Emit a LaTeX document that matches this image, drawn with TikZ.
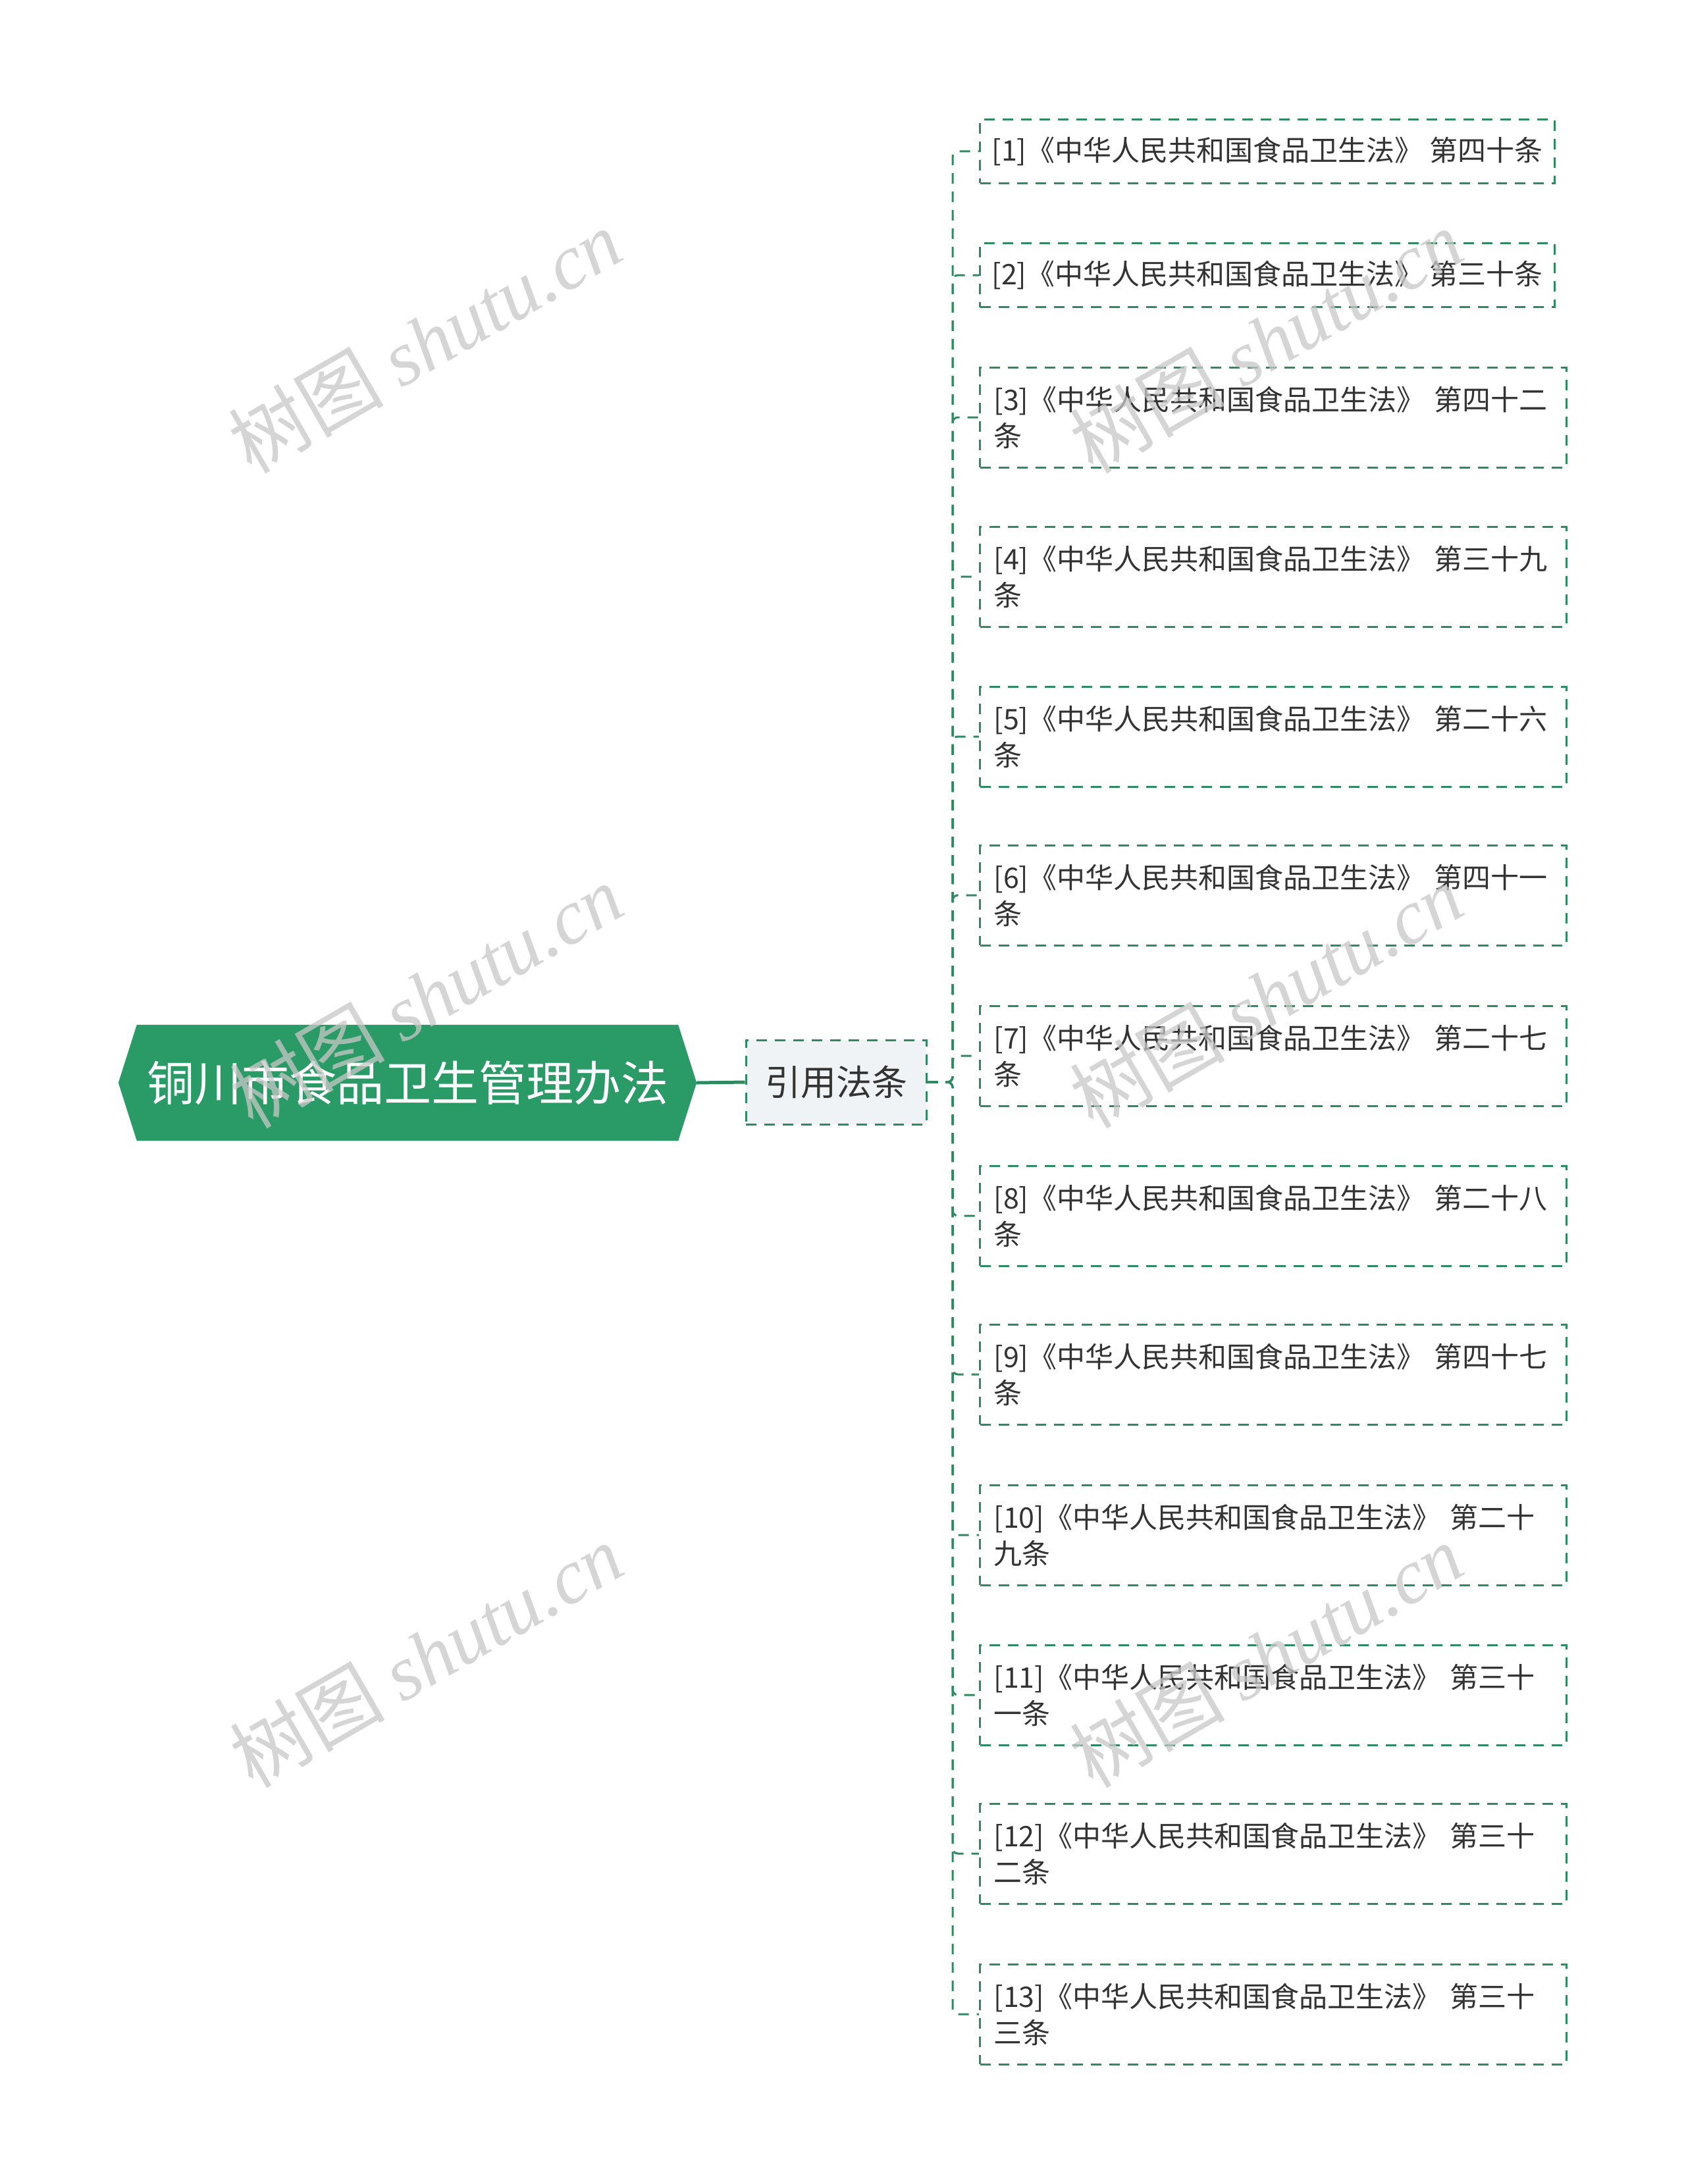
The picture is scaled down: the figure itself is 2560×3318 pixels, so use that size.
\documentclass[tikz,border=0pt]{standalone}
\usepackage{fontspec}
\setmainfont{Noto Sans CJK SC}
\newfontfamily\wmcjk{Noto Sans CJK SC}
\newfontfamily\wmlatin{Liberation Serif}
\usetikzlibrary{backgrounds}
\definecolor{rootgreen}{RGB}{42,154,103}
\definecolor{linegreen}{RGB}{46,139,96}
\definecolor{midfill}{RGB}{240,243,245}
\definecolor{txt}{RGB}{51,51,51}
\definecolor{wmgray}{RGB}{200,200,200}
\tikzset{
  leafbox/.style={draw=linegreen, line width=3pt, dash pattern=on 16pt off 12pt,
    fill=white, text=txt, align=left, anchor=west, inner xsep=18pt, inner ysep=0pt,
    font=\fontsize{43}{55}\selectfont},
  oneline/.style={leafbox, minimum width=872pt, minimum height=97pt},
  twoline/.style={leafbox, inner xsep=21pt, text width=849pt, minimum height=152pt},
  midbox/.style={draw=linegreen, line width=3pt, dash pattern=on 16pt off 12pt,
    fill=midfill, text=txt, minimum width=274pt, minimum height=128pt,
    font=\fontsize{54}{60}\selectfont},
  rootbox/.style={text=white, minimum width=878pt, minimum height=176pt, inner sep=0pt,
    font=\fontsize{72}{80}\selectfont},
  branch/.style={draw=linegreen, line width=3pt, dash pattern=on 16pt off 12pt, rounded corners=8pt},
  wmark/.style={text=wmgray, opacity=0.75, rotate=30, font=\fontsize{118}{120}\selectfont}
}
\begin{document}
\begin{tikzpicture}[x=1pt,y=-1pt]
\useasboundingbox (0,0) rectangle (2560,3318);

% root
\node[rootbox] (root) at (619,1645) {铜川市食品卫生管理办法};
\begin{scope}[on background layer]
\fill[white] (0,0) rectangle (2560,3318);
\fill[rootgreen] (root.west) -- ([xshift=28pt]root.north west) -- ([xshift=-28pt]root.north east)
  -- (root.east) -- ([xshift=-28pt]root.south east) -- ([xshift=28pt]root.south west) -- cycle;
\end{scope}

% middle
\node[midbox] (mid) at (1270,1644) {引用法条};
\draw[linegreen, line width=5pt] (root.east) -- (mid.west);

\coordinate (trunk) at (1447,1644);

% leaves
\node[oneline] (l1) at (1487,230) {[1]《中华人民共和国食品卫生法》 第四十条};
\node[oneline] (l2) at (1487,418) {[2]《中华人民共和国食品卫生法》 第三十条};
\node[twoline] (l3) at (1487,634) {[3]《中华人民共和国食品卫生法》 第四十二\\条};
\node[twoline] (l4) at (1487,876) {[4]《中华人民共和国食品卫生法》 第三十九\\条};
\node[twoline] (l5) at (1487,1119) {[5]《中华人民共和国食品卫生法》 第二十六\\条};
\node[twoline] (l6) at (1487,1360) {[6]《中华人民共和国食品卫生法》 第四十一\\条};
\node[twoline] (l7) at (1487,1604) {[7]《中华人民共和国食品卫生法》 第二十七\\条};
\node[twoline] (l8) at (1487,1847) {[8]《中华人民共和国食品卫生法》 第二十八\\条};
\node[twoline] (l9) at (1487,2088) {[9]《中华人民共和国食品卫生法》 第四十七\\条};
\node[twoline] (l10) at (1487,2332) {[10]《中华人民共和国食品卫生法》 第二十\\九条};
\node[twoline] (l11) at (1487,2575) {[11]《中华人民共和国食品卫生法》 第三十\\一条};
\node[twoline] (l12) at (1487,2816) {[12]《中华人民共和国食品卫生法》 第三十\\二条};
\node[twoline] (l13) at (1487,3060) {[13]《中华人民共和国食品卫生法》 第三十\\三条};

\foreach \k in {1,...,13} {
  \draw[branch] (mid.east) -- (trunk) |- (l\k.west);
}

% watermarks
\foreach \wx/\wy in {645/518, 647/1513, 647/2515, 1923/518, 1923/1513, 1923/2515} {
  \node[wmark] at (\wx,\wy) {{\wmcjk 树图} {\wmlatin\itshape shutu.cn}};
}
\end{tikzpicture}
\end{document}
